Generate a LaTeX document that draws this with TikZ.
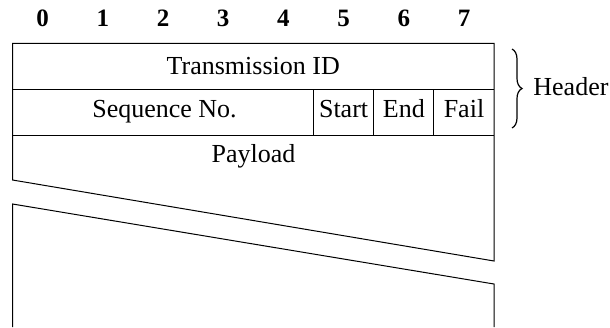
\documentclass[tikz,border=0pt]{standalone}
\usepackage{fontspec}
\setmainfont{Liberation Serif}
\usetikzlibrary{decorations.pathreplacing}

\begin{document}
\begin{tikzpicture}[
            x=0.5pt, y=-0.5pt,
            every node/.style={font=\fontsize{13}{15}\selectfont, inner sep=0pt}
        ]

        % Define styles for fields and frame
        \tikzset{
            field/.style={anchor=base},
            bitnum/.style={anchor=base, font=\fontsize{12.5}{15}\selectfont\bfseries},
            frame/.style={draw=black, line width=.5pt}
        }

        \useasboundingbox (0,0) rectangle (610,327);

        % Bit numbers
        \foreach \i in {0,...,7}
            \node[bitnum] (bit\i) at (42.6+60.2*\i, 26.7) {\i};

        % Header rows and top part of payload
        \draw[frame] (12.5,180) -- (12.5,43.3) -- (494,43.3) -- (494,261) -- cycle;
        \draw[frame] (12.5,89.3) -- (494,89.3);
        \draw[frame] (12.5,135) -- (494,135);
        \foreach \x in {313.5,373.7,433.9}
            \draw[frame] (\x,89.3) -- (\x,135);

        % Lower part of payload
        \draw[frame] (12.5,327) -- (12.5,204) -- (494,284) -- (494,327);

        % Field labels
        \node[field] (txid) at (253.25,74.3) {Transmission ID};
        \node[field] (seqno) at (164.5,117.3) {Sequence No.};
        \node[field] (start) at (343.6,117.3) {Start};
        \node[field] (end) at (403.8,117.3) {End};
        \node[field] (fail) at (464,117.3) {Fail};
        \node[field] (payload) at (253.5,162.7) {Payload};

        % Header brace
        \draw[decorate, decoration={brace, amplitude=5pt}, line width=.6pt] (512,49) -- (512,128);
        \node[anchor=base west] (header) at (533,95.7) {Header};

        \end{tikzpicture}
\end{document}
